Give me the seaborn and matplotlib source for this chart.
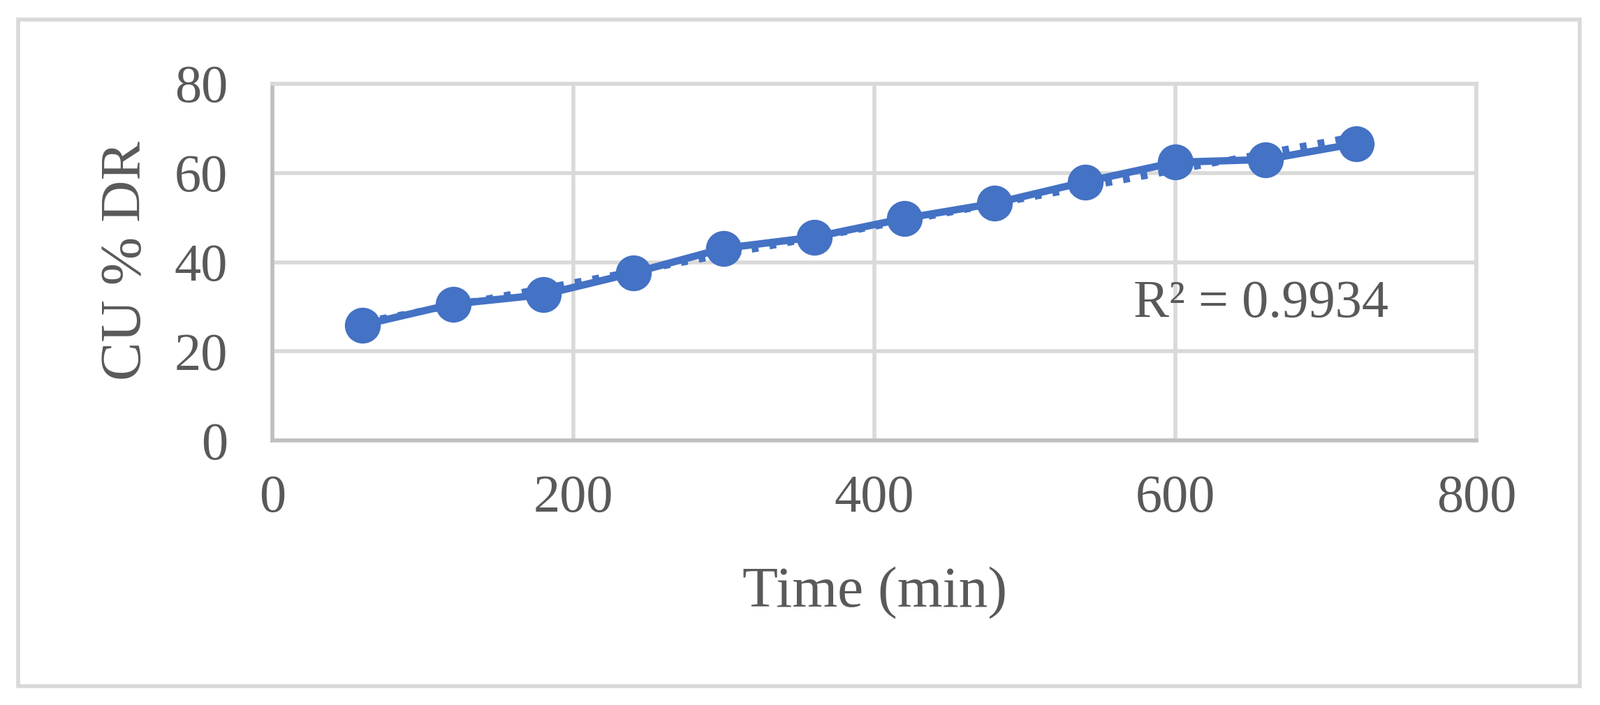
import numpy as np
import pandas as pd

import matplotlib
matplotlib.use("Agg")
import matplotlib.pyplot as plt
from matplotlib.patches import Rectangle
import seaborn as sns

# =====================================================
# DATA
# =====================================================

time_min = [60, 120, 180, 240, 300, 360, 420, 480, 540, 600, 660, 720]

cu_dr = [25.9, 30.6, 32.7, 37.6, 43.1, 45.6, 49.8, 53.2, 58.0, 62.4, 63.0, 66.6]

x_ticks = [0, 200, 400, 600, 800]
y_ticks = [0, 20, 40, 60, 80]

r2_label = "R² = 0.9934"

df = pd.DataFrame({"Time": time_min, "CU": cu_dr})

# =====================================================
# STYLE
# =====================================================

sns.set_style("white")
plt.rcParams["font.family"] = ["Liberation Serif", "DejaVu Serif"]

blue = "#4472C4"
text_grey = "#595959"
grid_grey = "#D9D9D9"
axis_grey = "#BFBFBF"

# =====================================================
# FIGURE
# =====================================================

fig = plt.figure(figsize=(22.91, 10.10), dpi=100)
ax = fig.add_axes([0.1702, 0.3752, 0.7525, 0.506])

# outer chart border
fig.patches.append(
    Rectangle(
        (0.0115, 0.027),
        0.976,
        0.945,
        transform=fig.transFigure,
        fill=False,
        edgecolor=grid_grey,
        linewidth=4,
        zorder=0
    )
)

# linear trendline (dotted)
sns.regplot(
    x="Time",
    y="CU",
    data=df,
    scatter=False,
    ci=None,
    ax=ax,
    line_kws=dict(color=blue, linestyle=":", linewidth=7, zorder=2)
)

# data series
sns.lineplot(
    x="Time",
    y="CU",
    data=df,
    ax=ax,
    color=blue,
    linewidth=7.5,
    marker="o",
    markersize=37,
    markeredgewidth=0,
    zorder=3
)

# =====================================================
# AXES
# =====================================================

ax.set_xlim(0, 800)
ax.set_ylim(0, 80)
ax.set_xticks(x_ticks)
ax.set_yticks(y_ticks)

ax.grid(True, color=grid_grey, linewidth=4)
ax.set_axisbelow(True)

for side in ["left", "bottom"]:
    ax.spines[side].set_color(axis_grey)
    ax.spines[side].set_linewidth(4)
for side in ["top", "right"]:
    ax.spines[side].set_color(grid_grey)
    ax.spines[side].set_linewidth(4)

ax.tick_params(axis="both", length=0, labelsize=55, labelcolor=text_grey)
ax.tick_params(axis="x", pad=35)
ax.tick_params(axis="y", pad=46)

ax.set_xlabel("Time (min)", fontsize=60, color=text_grey, va="center")
ax.set_ylabel("CU % DR", fontsize=60, color=text_grey, va="center")
ax.xaxis.set_label_coords(0.5006, -0.4286)
ax.yaxis.set_label_coords(-0.121, 0.503)

ax.text(
    572,
    27.7,
    r2_label,
    fontsize=55,
    color=text_grey,
    ha="left",
    va="baseline"
)

plt.savefig("out.png", dpi=100)
plt.close()
